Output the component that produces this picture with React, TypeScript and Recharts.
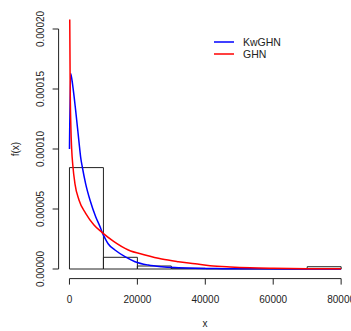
import { ComposedChart, Line, XAxis, YAxis, ReferenceArea, ReferenceLine, Legend } from "recharts";

// histogram (breaks of 10000, density)
const breaks = [0, 10000, 20000, 30000, 40000, 50000, 60000, 70000, 80000];
const density = [0.0000845, 0.00000975, 0.0000025, 0.0000006, 0.0000003, 0.0000002, 0.0000002, 0.0000019];

// fitted densities (units of 1e-5)
const kwX = [0, 350, 1000, 1830, 2800, 3300, 3780, 4770, 6040, 7720, 8990, 9660, 10670, 11440, 13400, 16350, 19300, 23200, 27160, 32070, 37000, 45000, 55000, 65000, 80000];
const kwY = [10, 16.3, 15.2, 13.2, 10.6, 9.3, 8.5, 7.1, 5.75, 4.36, 3.53, 3.03, 2.45, 2.08, 1.58, 1.03, 0.61, 0.33, 0.19, 0.11, 0.06, 0.03, 0.015, 0.008, 0.004];
const ghnX = [80, 200, 400, 650, 1000, 1620, 2800, 4770, 7220, 9660, 13000, 17330, 22250, 27160, 32070, 37000, 41400, 47300, 53200, 60000, 70000, 80000];
const ghnY = [21, 15.5, 12.0, 10.0, 8.6, 7.1, 5.75, 4.64, 3.67, 3.03, 2.3, 1.58, 1.17, 0.83, 0.61, 0.44, 0.28, 0.17, 0.1, 0.06, 0.03, 0.02];

const xTicks = [0, 20000, 40000, 60000, 80000];
const yTicks = [0, 0.00005, 0.0001, 0.00015, 0.0002];
const yLabels = ["0.00000", "0.00005", "0.00010", "0.00015", "0.00020"];

const series = [
  { name: "KwGHN", color: "#0000FF" },
  { name: "GHN", color: "#FF0000" },
];

const kwData = kwX.map((x, i) => ({ x, y: kwY[i] * 1e-5 }));
const ghnData = ghnX.map((x, i) => ({ x, y: ghnY[i] * 1e-5 }));

const font = "'Liberation Sans', Arial, Helvetica, sans-serif";
const ink = "#222";

function XTick(props: any) {
  const { x, payload } = props;
  return (
    <text x={x} y={303} textAnchor="middle" fontSize={10} fontFamily={font} fill={ink}>
      {payload.value}
    </text>
  );
}

function YTick(props: any) {
  const { y, payload } = props;
  const i = yTicks.indexOf(payload.value);
  return (
    <text x={43.5} y={y} transform={`rotate(-90, 43.5, ${y})`} textAnchor="middle" fontSize={10} fontFamily={font} fill={ink}>
      {yLabels[i] ?? payload.value}
    </text>
  );
}

function LegendBox() {
  return (
    <div style={{ fontFamily: font, fontSize: 10.5, color: ink }}>
      {series.map((s) => (
        <div key={s.name} style={{ display: "flex", alignItems: "center", height: 12 }}>
          <svg width={20} height={4}>
            <line x1={0} x2={20} y1={2} y2={2} stroke={s.color} strokeWidth={1.5} />
          </svg>
          <span style={{ marginLeft: 9 }}>{s.name}</span>
        </div>
      ))}
    </div>
  );
}

export default function App() {
  return (
    <div style={{ position: "absolute", left: 0, top: 0, width: 351, height: 331, overflow: "hidden", background: "#fff" }}>
      <ComposedChart width={360} height={331} margin={{ top: 19.4, right: 8, left: 0, bottom: 22.4 }}>
        <XAxis
          type="number"
          dataKey="x"
          domain={[-3200, 83200]}
          allowDataOverflow
          ticks={xTicks}
          interval={0}
          height={30}
          axisLine={false}
          tickLine={{ stroke: ink }}
          tickSize={6}
          tick={<XTick />}
          label={{ content: () => <text x={205} y={327} textAnchor="middle" fontSize={10} fontFamily={font} fill={ink}>x</text> }}
        />
        <YAxis
          type="number"
          domain={[-0.000008, 0.000208]}
          allowDataOverflow
          ticks={yTicks}
          interval={0}
          width={58.6}
          axisLine={false}
          tickLine={{ stroke: ink }}
          tickSize={6}
          tick={<YTick />}
          label={{ content: () => <text x={18.5} y={149} transform="rotate(-90, 18.5, 149)" textAnchor="middle" fontSize={10} fontFamily={font} fill={ink}>f(x)</text> }}
        />
        {density.map((d, i) => (
          <ReferenceArea key={i} x1={breaks[i]} x2={breaks[i + 1]} y1={0} y2={d} fill="none" stroke={ink} strokeWidth={1} ifOverflow="visible" />
        ))}
        <ReferenceLine segment={[{ x: 0, y: -0.000008 }, { x: 80000, y: -0.000008 }]} stroke={ink} ifOverflow="visible" />
        <ReferenceLine segment={[{ x: -3200, y: 0 }, { x: -3200, y: 0.0002 }]} stroke={ink} ifOverflow="visible" />
        <Line data={kwData} dataKey="y" type="monotone" stroke={series[0].color} strokeWidth={1.5} dot={false} isAnimationActive={false} />
        <Line data={ghnData} dataKey="y" type="monotone" stroke={series[1].color} strokeWidth={1.5} dot={false} isAnimationActive={false} />
        <Legend layout="vertical" align="center" verticalAlign="middle" wrapperStyle={{ left: 214, top: 36, width: "auto" }} content={() => <LegendBox />} />
      </ComposedChart>
    </div>
  );
}
